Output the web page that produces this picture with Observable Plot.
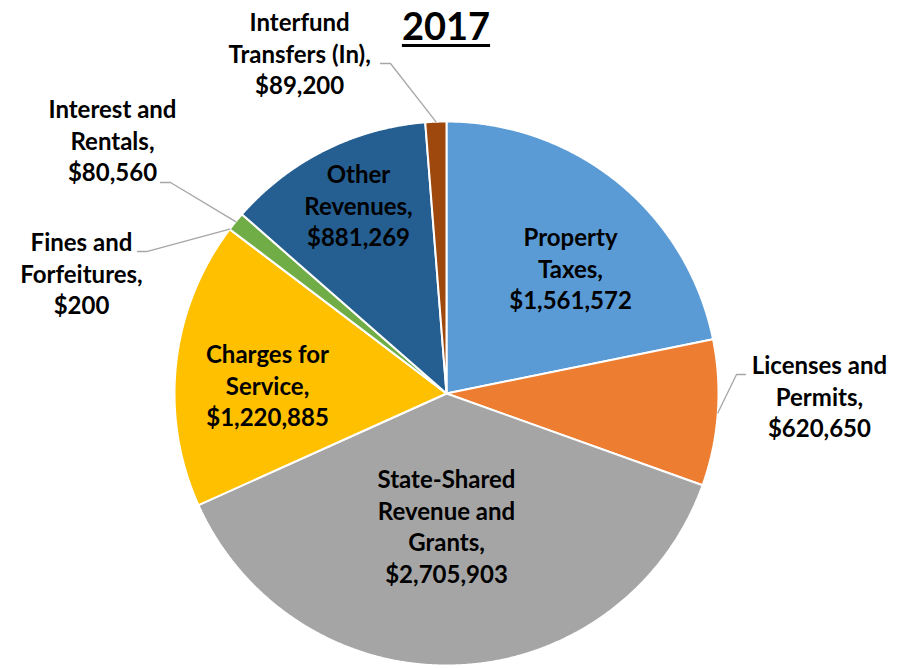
<!DOCTYPE html>
<html>
<head>
<meta charset="utf-8">
<script src="https://cdn.jsdelivr.net/npm/d3@7"></script>
<script src="https://cdn.jsdelivr.net/npm/@observablehq/plot@0.6"></script>
<style>
  body { margin: 0; background: #fff; }
  #wrap { position: relative; width: 907px; height: 668px; }
  #title {
    position: absolute; left: 0; top: 6px; width: 892px; text-align: center;
    font-family: Lato, sans-serif; font-weight: bold; font-size: 38px; line-height: 38px;
    color: #000; text-decoration: underline; text-decoration-thickness: 3px; text-underline-offset: 4px;
  }
  svg text { font-family: Lato, sans-serif; }
</style>
</head>
<body>
<div id="wrap"><div id="title"></div></div>
<script>
// ---- data ----
const title = "2017";
const categories = [
  "Property\nTaxes",
  "Licenses and\nPermits",
  "State-Shared\nRevenue and\nGrants",
  "Charges for\nService",
  "Fines and\nForfeitures",
  "Interest and\nRentals",
  "Other\nRevenues",
  "Interfund\nTransfers (In)"
];
const values = [1561572, 620650, 2705903, 1220885, 200, 80560, 881269, 89200];
const colors = ["#5B9BD5", "#ED7D31", "#A5A5A5", "#FFC000", "#4472C4", "#70AD47", "#255E91", "#9E480E"];

// ---- layout (label centres and leader elbows, in pie-radius units) ----
const labelU = [0.456, 1.371, 0.0, -0.658, -1.342, -1.228, -0.3235, -0.540];
const labelV = [0.463, -0.008, -0.485, 0.033, 0.445, 0.934, 0.6946, 1.253];
const leaderSlices = [1, 4, 5, 7];
const leaderU0 = {1: 1.0993, 4: -1.1360, 5: -1.0515, 7: -0.2426};
const leaderU1 = {1: 1.0662, 4: -1.0993, 5: -1.0147, 7: -0.2059};
const leaderV = {1: 0.0699, 4: 0.5221, 5: 0.7757, 7: 1.2132};

document.getElementById("title").textContent = title;

const W = 907, H = 668, R = 272, CX = 446, CY = 393;
const total = d3.sum(values);
const fmt = d3.format(",");

// slice angles (clockwise from top)
let acc = 0;
const slices = values.map((v, i) => {
  const a0 = acc / total * 2 * Math.PI;
  acc += v;
  const a1 = acc / total * 2 * Math.PI;
  return {i, name: categories[i], value: v, a0, a1, mid: (a0 + a1) / 2};
});

// polygon points for each slice
const pts = [];
for (const s of slices) {
  pts.push({name: s.name, x: 0, y: 0});
  const n = Math.max(1, Math.ceil((s.a1 - s.a0) / (Math.PI / 720)));
  for (let k = 0; k <= n; k++) {
    const a = s.a0 + (s.a1 - s.a0) * k / n;
    pts.push({name: s.name, x: Math.sin(a), y: Math.cos(a)});
  }
  pts.push({name: s.name, x: 0, y: 0});
}

const labels = slices.map(s => ({
  text: s.name + ",\n$" + fmt(s.value),
  x: labelU[s.i], y: labelV[s.i]
}));

const leaders = [];
for (const i of leaderSlices) {
  const s = slices[i];
  leaders.push({z: i, x: leaderU0[i], y: leaderV[i]});
  leaders.push({z: i, x: leaderU1[i], y: leaderV[i]});
  leaders.push({z: i, x: Math.sin(s.mid), y: Math.cos(s.mid)});
}

const chart = Plot.plot({
  width: W, height: H,
  margin: 0,
  style: {background: "transparent", fontFamily: "Lato, sans-serif"},
  x: {domain: [-CX / R, (W - CX) / R], axis: null},
  y: {domain: [-(H - CY) / R, CY / R], axis: null},
  color: {domain: categories, range: colors},
  marks: [
    Plot.line(pts, {x: "x", y: "y", z: "name", fill: "name", stroke: "white", strokeWidth: 2, strokeLinejoin: "miter"}),
    Plot.line(leaders, {x: "x", y: "y", z: "z", stroke: "#A6A6A6", strokeWidth: 1.3}),
    Plot.text(labels, {x: "x", y: "y", text: "text", fontSize: 24, fontWeight: "bold", lineHeight: 1.31, fill: "#000", lineAnchor: "middle"})
  ]
});
document.getElementById("wrap").appendChild(chart);
</script>
</body>
</html>
